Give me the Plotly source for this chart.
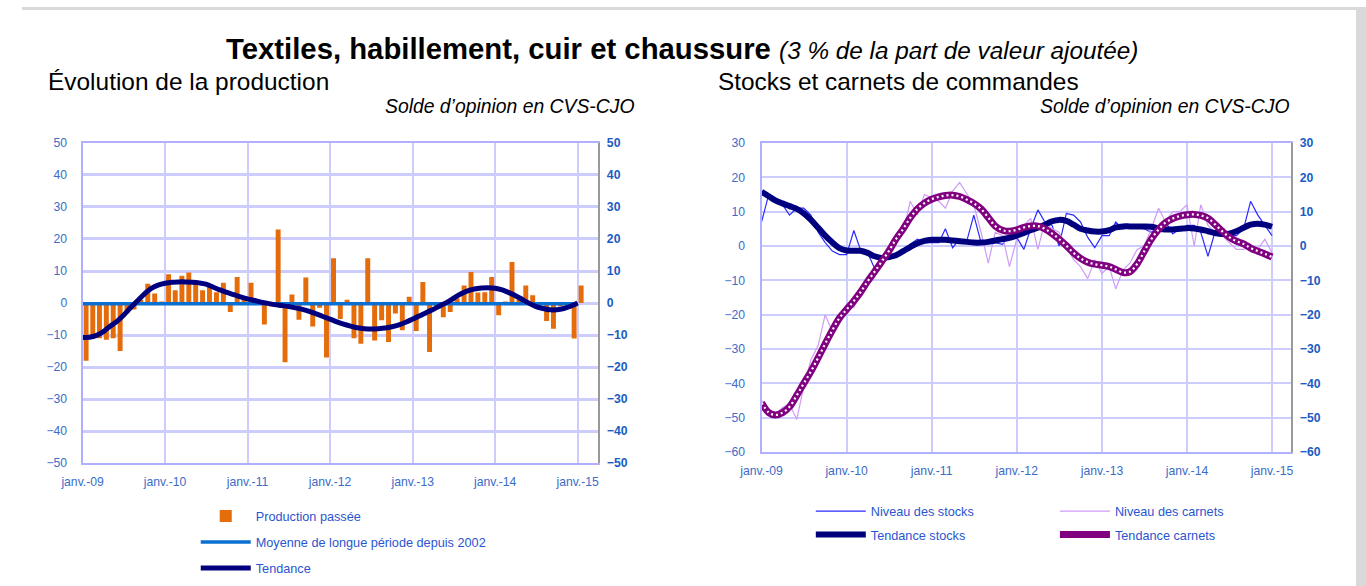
import plotly.graph_objects as go
import pandas as pd

W, H = 1372, 598
# measured mapping from figure pixels to the photographed window
SX, SY = 0.984, 0.972
OX, OY = 21.0, 8.0

months = pd.date_range("2009-01-01", "2015-01-01", freq="MS")

# ---- Left chart: Évolution de la production ----
production_passee = [
    -18, -11, -11, -11.5, -11, -15, -3, -2, 1, 6, 3, 0.5,
    9, 4, 8.5, 9.5, 6, 4, 5.5, 3.4, 6.3, -2.8, 8.1, 1,
    6.3, 1, -6.7, -1, 23, -18.5, 2.7, -5.2, 8, -7.3, -1.5, -17,
    14, -5, 1, -11, -12.7, 14, -11.7, -5.4, -12.2, -3.3, -8.5, 2,
    -8.7, 6.6, -15.3, -1, -4.4, -2.8, 1.5, 5.5, 9.7, 3.3, 3.4, 8.1,
    -3.8, 0.5, 12.8, 1, 5.5, 2.4, -0.5, -5.6, -8, -1, -1, -11.1,
    5.5,
]
moyenne_longue = [-0.2] * len(months)
tendance_prod = [
    -10.8, -10.7, -10.2, -9, -7.3, -5.8, -3.8, -1.5, 0.7, 2.8, 4.6, 5.6,
    6.2, 6.5, 6.6, 6.6, 6.5, 6.3, 5.9, 5, 4.1, 3.3, 2.6, 1.9,
    1.3, 0.8, 0.3, -0.1, -0.5, -0.8, -1.1, -1.5, -2, -2.6, -3.4, -4.2,
    -5, -5.9, -6.6, -7.2, -7.7, -8, -8.1, -8, -7.8, -7.4, -6.8, -6,
    -5, -4, -3, -2, -0.9, 0.2, 1.5, 2.8, 3.8, 4.4, 4.7, 4.8,
    4.6, 4.1, 3.3, 2.3, 1.1, -0.1, -1.1, -1.7, -2.1, -2.1, -1.7, -1,
    0,
]

# ---- Right chart: Stocks et carnets de commandes ----
niveau_stocks = [
    7, 15, 13, 12, 9, 11, 11, 9, 4, 1, -1.5, -2.5,
    -2.5, 4.5, -1, -2, -6.5, -3, -3, -3, -2, 0.5, 2, 1,
    1, 1, 5, -0.5, 2, 1.5, 9, 1, 1, 1, 0.5, 3,
    2.5, -1, 5, 10.5, 7, 6, 0, 9.5, 9, 7, 2.5, -0.5,
    3, 3, 7, 5, 5.5, 5.5, 5, 4, 5.5, 7, 3.5, 5,
    6, 6, 4, -3, 4, 5, 3, 3, 5, 13, 9, 6,
    3,
]
niveau_carnets = [
    -45, -48, -49, -47, -46, -50.5, -41, -33, -29, -20, -25, -20.5,
    -17, -18, -14, -10, -8, -4, -2, 3, 4, 13, 9, 15,
    14, 13, 11, 16, 18.5, 15, 12, 4, -5, 4, 3, -6,
    2, 6, 8, -1, 7, 5, 4, 0, -4, -6, -9.5, -4,
    -8, -6, -12.5, -7, -5, -1, 0, 5, 11, 7, 10, 10,
    12, 0, 12, 6, 4, 3, 1, -1, -1, 0, -1, 2,
    -2,
]
tendance_stocks = [
    15.8, 14.5, 13.3, 12.4, 11.6, 10.8, 9.5, 7.6, 5.3, 3, 1, -0.6,
    -1.3, -1.4, -1.4, -2, -3, -3.5, -3.2, -2.7, -1.5, -0.3, 0.8, 1.5,
    1.8, 1.8, 1.8, 1.6, 1.4, 1.2, 1.0, 1.0, 1.2, 1.6, 2.0, 2.4,
    3.0, 3.8, 4.6, 5.3, 6.2, 7.2, 7.6, 7.3, 6.2, 5.0, 4.5, 4.2,
    4.2, 4.6, 5.4, 5.7, 5.7, 5.7, 5.7, 5.6, 5.1, 4.8, 4.8, 5.0,
    5.2, 5.1, 4.8, 4.3, 3.8, 3.5, 3.6, 4.3, 5.3, 6.2, 6.5, 6.2,
    5.6,
]
tendance_carnets = [
    -45.6, -48.5, -49.2, -48.5, -46.8, -43.5, -40, -36.5, -32.5, -28.5, -24.5, -21,
    -18.5, -16, -13.5, -10.3, -7.5, -4.5, -1.5, 2, 5, 8.2, 10.8, 12.5,
    13.6, 14.3, 14.7, 14.8, 14.4, 13.5, 12.4, 10.8, 8.3, 5.8, 4.6, 4.3,
    4.7, 5.4, 5.8, 5.8, 5.0, 3.6, 2.0, 0.1, -2.0, -3.6, -4.7, -5.3,
    -5.6, -6.0, -6.8, -7.7, -7.5, -5.2, -1.6, 2.0, 4.8, 6.8, 8.0, 8.7,
    9.1, 9.2, 8.9, 8.1, 6.3, 4.3, 2.6, 1.4, 0.6, -0.6, -1.5, -2.3,
    -3.2,
]

tick_dates = ["2009-01-01", "2010-01-01", "2011-01-01", "2012-01-01",
              "2013-01-01", "2014-01-01", "2015-01-01"]
tick_labels = ["janv.-09", "janv.-10", "janv.-11", "janv.-12",
               "janv.-13", "janv.-14", "janv.-15"]
left_y_ticks = [-50, -40, -30, -20, -10, 0, 10, 20, 30, 40, 50]
right_y_ticks = [-60, -50, -40, -30, -20, -10, 0, 10, 20, 30]


def px_x(x):
    """window pixel -> paper fraction"""
    return (x - OX) / SX / W


def px_y(y):
    return 1 - (y - OY) / SY / H


FONT = "Liberation Sans, Arial, sans-serif"
TICK_BLUE = "#3a6cc8"
BOLD_BLUE = "#1a5bc4"
LEG_BLUE = "#2a55d0"
GRID = "#ccccff"
MONTH_MS = 30.4 * 24 * 3600 * 1000
TICK_SIZE = 12.2
LEG_SIZE = 12.7

fig = go.Figure()

# Left chart traces
fig.add_trace(go.Bar(
    x=months, y=production_passee, name="Production passée",
    xperiod="M1", xperiodalignment="middle",
    marker=dict(color="#e46c0a", line=dict(width=0)), width=0.72 * MONTH_MS,
    xaxis="x", yaxis="y", legend="legend", legendgroup="a",
))
fig.add_trace(go.Scatter(
    x=months, y=moyenne_longue,
    name="Moyenne de longue période depuis 2002", mode="lines",
    line=dict(color="#0a6fd0", width=3.5),
    xaxis="x", yaxis="y", legend="legend", legendgroup="b",
))
fig.add_trace(go.Scatter(
    x=months, y=tendance_prod, name="Tendance", mode="lines",
    line=dict(color="#00007f", width=5, shape="spline"),
    xaxis="x", yaxis="y", legend="legend", legendgroup="c",
))

# Right chart traces
fig.add_trace(go.Scatter(
    x=months, y=niveau_stocks, name="Niveau des stocks", mode="lines",
    line=dict(color="#2a2aff", width=1.2),
    xaxis="x2", yaxis="y2", legend="legend2", legendgroup="d",
))
fig.add_trace(go.Scatter(
    x=months, y=niveau_carnets, name="Niveau des carnets", mode="lines",
    line=dict(color="#cf9cf5", width=1.2),
    xaxis="x2", yaxis="y2", legend="legend3", legendgroup="e",
))
fig.add_trace(go.Scatter(
    x=months, y=tendance_stocks, name="Tendance stocks", mode="lines",
    line=dict(color="#00007f", width=6, shape="spline"),
    xaxis="x2", yaxis="y2", legend="legend2", legendgroup="f",
))
fig.add_trace(go.Scatter(
    x=months, y=tendance_carnets, name="Tendance carnets", mode="lines",
    line=dict(color="#800080", width=7, shape="spline"),
    xaxis="x2", yaxis="y2", legend="legend3", legendgroup="g",
))
fig.add_trace(go.Scatter(
    x=months, y=tendance_carnets, name="Tendance carnets", mode="lines",
    line=dict(color="white", width=2.2, shape="spline", dash="2px,3px"),
    xaxis="x2", yaxis="y2", showlegend=False, hoverinfo="skip",
))

xcommon = dict(
    type="date", tickvals=tick_dates, ticktext=tick_labels,
    showgrid=True, gridcolor=GRID, gridwidth=2, zeroline=False,
    showline=True, linecolor="#b0b0ff", linewidth=2, mirror=True,
    tickfont=dict(family=FONT, size=TICK_SIZE, color=TICK_BLUE),
    ticks="", ticklabelstandoff=6,
)

fig.update_layout(
    width=W, height=H,
    margin=dict(l=0, r=0, t=0, b=0),
    paper_bgcolor="white", plot_bgcolor="white",
    xaxis=dict(xcommon, domain=[px_x(81.7), px_x(598.3)],
               range=["2009-01-01", "2015-04-03"], anchor="y"),
    yaxis=dict(domain=[px_y(462), px_y(143.3)], range=[-50, 50],
               tickvals=left_y_ticks, showgrid=True, gridcolor=GRID, gridwidth=2.5,
               zeroline=False, showline=True, linecolor="#b0b0ff", linewidth=2,
               tickfont=dict(family=FONT, size=TICK_SIZE, color=TICK_BLUE),
               ticks="", ticklabelstandoff=11, anchor="x"),
    yaxis3=dict(overlaying="y", side="right", range=[-50, 50], anchor="x",
                tickvals=left_y_ticks, showgrid=False, zeroline=False,
                showline=True, linecolor="#999999", linewidth=2,
                tickfont=dict(family=FONT, size=TICK_SIZE, color=BOLD_BLUE, weight="bold"),
                ticks="", ticklabelstandoff=4),
    xaxis2=dict(xcommon, domain=[px_x(761.7), px_x(1292.3)],
                range=["2009-01-01", "2015-03-25"], anchor="y2", gridwidth=1.5),
    yaxis2=dict(domain=[px_y(451), px_y(143.3)], range=[-60, 30],
                tickvals=right_y_ticks, showgrid=True, gridcolor=GRID, gridwidth=1.5,
                zeroline=False, showline=True, linecolor="#b0b0ff", linewidth=2,
                tickfont=dict(family=FONT, size=TICK_SIZE, color=TICK_BLUE),
                ticks="", ticklabelstandoff=12, anchor="x2"),
    yaxis4=dict(overlaying="y2", side="right", range=[-60, 30], anchor="x2",
                tickvals=right_y_ticks, showgrid=False, zeroline=False,
                showline=True, linecolor="#999999", linewidth=2,
                tickfont=dict(family=FONT, size=TICK_SIZE, color=BOLD_BLUE, weight="bold"),
                ticks="", ticklabelstandoff=4),
    legend=dict(x=px_x(195), y=px_y(500), xanchor="left", yanchor="top",
                font=dict(family=FONT, size=LEG_SIZE, color=LEG_BLUE),
                tracegroupgap=6.5, bgcolor="rgba(0,0,0,0)", itemwidth=50),
    legend2=dict(x=px_x(811), y=px_y(495), xanchor="left", yanchor="top",
                 font=dict(family=FONT, size=LEG_SIZE, color=LEG_BLUE),
                 tracegroupgap=4, bgcolor="rgba(0,0,0,0)", itemwidth=50),
    legend3=dict(x=px_x(1055.5), y=px_y(495), xanchor="left", yanchor="top",
                 font=dict(family=FONT, size=LEG_SIZE, color=LEG_BLUE),
                 tracegroupgap=4, bgcolor="rgba(0,0,0,0)", itemwidth=50),
    showlegend=True,
)

# invisible anchors so the right-hand axes are rendered
fig.add_trace(go.Scatter(x=[months[0]], y=[0], xaxis="x", yaxis="y3",
                         mode="markers", marker=dict(opacity=0), showlegend=False,
                         hoverinfo="skip"))
fig.add_trace(go.Scatter(x=[months[0]], y=[0], xaxis="x2", yaxis="y4",
                         mode="markers", marker=dict(opacity=0), showlegend=False,
                         hoverinfo="skip"))

# Gray page frame (top band and right strip)
frame = "#d9d9d9"
fig.add_shape(type="rect", xref="paper", yref="paper", x0=0, x1=1, y0=px_y(11), y1=1,
              fillcolor=frame, line=dict(width=0), layer="below")
fig.add_shape(type="rect", xref="paper", yref="paper", x0=px_x(1357), x1=1, y0=0, y1=1,
              fillcolor=frame, line=dict(width=0), layer="below")

annots = [
    dict(x=px_x(682), y=px_y(49),
         text="<b>Textiles, habillement, cuir et chaussure</b> <i><span style='font-size:24.3px'>(3 % de la part de valeur ajoutée)</span></i>",
         font=dict(family=FONT, size=29.3, color="black"), xanchor="center"),
    dict(x=px_x(45), y=px_y(82), text="Évolution de la production",
         font=dict(family=FONT, size=24.45, color="black"), xanchor="left"),
    dict(x=px_x(716), y=px_y(82), text="Stocks et carnets de commandes",
         font=dict(family=FONT, size=24.4, color="black"), xanchor="left"),
    dict(x=px_x(636), y=px_y(107), text="<i>Solde d’opinion en CVS-CJO</i>",
         font=dict(family=FONT, size=19.35, color="black"), xanchor="right"),
    dict(x=px_x(1292), y=px_y(107), text="<i>Solde d’opinion en CVS-CJO</i>",
         font=dict(family=FONT, size=19.35, color="black"), xanchor="right"),
]
for a in annots:
    fig.add_annotation(xref="paper", yref="paper", showarrow=False, yanchor="middle", **a)

fig.write_html(
    "out.html",
    config={"responsive": False, "displayModeBar": False},
    post_script="document.body.style.margin='0';document.body.style.overflow='hidden';",
)
